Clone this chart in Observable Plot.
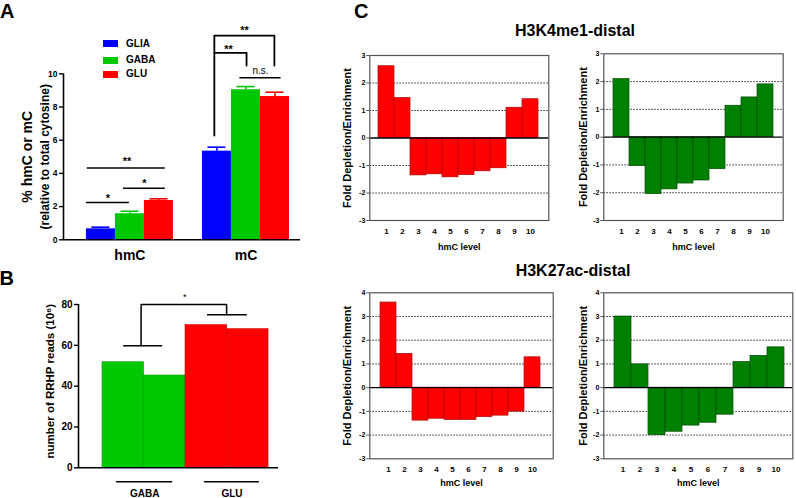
<!DOCTYPE html>
<html><head><meta charset="utf-8">
<script src="https://cdn.jsdelivr.net/npm/d3@7"></script>
<script src="https://cdn.jsdelivr.net/npm/@observablehq/plot@0.6"></script>
<style>
body{margin:0;background:#fff}
#fig{position:relative;width:796px;height:498px;overflow:hidden;font-family:"Liberation Sans",Arial,sans-serif;color:#000;background:#fff}
#fig svg{position:absolute;overflow:visible;background:transparent}
.lbl{position:absolute;line-height:1;white-space:nowrap}
.sw{position:absolute}
</style></head><body><div id="fig"></div>
<script>
// ---------- Panel A data ----------
const aGroups = ["hmC", "mC"];
const aCells = ["GLIA", "GABA", "GLU"];
const aColors = ["#0000ff", "#00c800", "#ff0000"];
const aHmC = [0.66, 1.57, 2.37];
const aHmCErr = [0.10, 0.15, 0.10];
const aMC = [5.34, 9.04, 8.63];
const aMCErr = [0.24, 0.19, 0.26];
const aYTicks = [0, 2, 4, 6, 8, 10];
// significance lines (x in bar-slot units, y in %)
const aSigLines = [
  {x1: 0.00, x2: 1.48, y: 2.25},
  {x1: 1.28, x2: 2.72, y: 3.10},
  {x1: 0.03, x2: 2.72, y: 4.33},
  {x1: 5.29, x2: 6.71, y: 9.76}
];
const aBrackets = [
  {id: "outer", x: 4.41, y: 6.28}, {id: "outer", x: 4.41, y: 12.3}, {id: "outer", x: 6.48, y: 12.3}, {id: "outer", x: 6.48, y: 10.5},
  {id: "inner", x: 4.41, y: 11.26}, {id: "inner", x: 5.52, y: 11.26}, {id: "inner", x: 5.52, y: 10.5}
];
const aMarks = [
  {x: 0.74, y: 2.67, t: "*"}, {x: 2.00, y: 3.57, t: "*"}, {x: 1.40, y: 4.88, t: "**"},
  {x: 4.90, y: 11.64, t: "**"}, {x: 5.45, y: 12.77, t: "**"}
];
const aNS = [{x: 6.0, y: 10.16, t: "n.s."}];

// ---------- Panel B data ----------
const bSamples = ["GABA", "GABA", "GLU", "GLU"];
const bValues = [51.7, 45.2, 69.9, 67.9];
const bGroups = ["GABA", "GLU"];
const bColors = ["#00c800", "#ff0000"];
const bGroupSpans = [[0.34, 1.69], [2.46, 3.78]];
const bYTicks = [0, 20, 40, 60, 80];
const bSigLines = [{x1: 0.51, x2: 1.45, y: 59.8}, {x1: 2.53, x2: 3.49, y: 75}];
const bBracket = [{x: 0.93, y: 59.8}, {x: 0.93, y: 80}, {x: 2.99, y: 80}, {x: 2.99, y: 75}];
const bStar = [{x: 1.98, y: 84.5, t: "*"}];

// ---------- Panel C data ----------
const cLevels = ["1","2","3","4","5","6","7","8","9","10"];
const k4me1Glu  = [2.61, 1.45, -1.36, -1.32, -1.43, -1.35, -1.21, -1.10, 1.10, 1.41];
const k4me1Gaba = [2.09, -1.04, -2.05, -1.88, -1.67, -1.56, -1.15, 1.13, 1.43, 1.90];
const k27acGlu  = [3.59, 1.42, -1.39, -1.31, -1.36, -1.36, -1.24, -1.18, -1.01, 1.28];
const k27acGaba = [3.00, 0.98, -2.00, -1.86, -1.60, -1.48, -1.14, 1.08, 1.34, 1.70];
const cTicksTop = [-3, -2, -1, 0, 1, 2, 3];
const cTicksBottom = [-3, -2, -1, 0, 1, 2, 3, 4];

const FONT = '"Liberation Sans", Arial, sans-serif';
const fmt = d => String(d);
const fig = document.getElementById("fig");
function put(svg, left, top) {
  svg.style.left = left + "px"; svg.style.top = top + "px";
  svg.style.background = "transparent";
  fig.appendChild(svg);
}
function label(txt, x, baseline, size, anchor = "start", weight = "bold") {
  const d = document.createElement("div");
  d.className = "lbl"; d.textContent = txt;
  d.style.fontSize = size + "px"; d.style.fontWeight = weight;
  d.style.top = (baseline - 0.8465 * size) + "px";
  d.style.left = x + "px";
  if (anchor === "middle") d.style.transform = "translateX(-50%)";
  fig.appendChild(d);
}

// ---------- Panel A ----------
const aRows = [];
aGroups.forEach((g, gi) => aCells.forEach((c, ci) => {
  const mean = (gi === 0 ? aHmC : aMC)[ci];
  const err = (gi === 0 ? aHmCErr : aMCErr)[ci];
  aRows.push({group: g, cell: c, slot: gi * (aCells.length + 1) + ci, mean, err});
}));
const aGroupCenters = aGroups.map((g, gi) => gi * (aCells.length + 1) + aCells.length / 2);
const aXDomain = [-0.79, 7.38];
const plotA = Plot.plot({
  width: 310, height: 270,
  marginLeft: 63, marginRight: 10, marginTop: 73.3, marginBottom: 30.7,
  x: {type: "linear", domain: aXDomain, axis: null},
  y: {domain: [0, 10], axis: null},
  color: {domain: aCells, range: aColors},
  style: {fontFamily: FONT, fontSize: "9px", fontWeight: "bold", background: "transparent", overflow: "visible"},
  marks: [
    Plot.rect(aRows, {x1: "slot", x2: d => d.slot + 1, y1: 0, y2: "mean", fill: "cell"}),
    Plot.ruleX(aRows, {x: d => d.slot + 0.5, y1: "mean", y2: d => d.mean + d.err, stroke: "cell", strokeWidth: 1.6}),
    Plot.ruleY(aRows, {y: d => d.mean + d.err, x1: d => d.slot + 0.19, x2: d => d.slot + 0.81, stroke: "cell", strokeWidth: 1.6}),
    Plot.ruleY([0], {stroke: "#000", strokeWidth: 1.6}),
    Plot.ruleX([aXDomain[0]], {y1: 0, y2: 10, stroke: "#000", strokeWidth: 1.6}),
    Plot.axisY({ticks: aYTicks, tickFormat: fmt, tickSize: 4, tickPadding: 2, fontSize: 8.5, fontWeight: "bold", label: null, strokeWidth: 1.4}),
    Plot.text(aGroups, {x: (d, i) => aGroupCenters[i], y: 0, dy: 16, text: d => d, fontSize: 14, fontWeight: "bold"}),
    Plot.text(["% hmC or mC"], {frameAnchor: "left", textAnchor: "middle", dx: -36, rotate: -90, text: d => d, fontSize: 14, fontWeight: "bold"}),
    Plot.text(["(relative to total cytosine)"], {frameAnchor: "left", textAnchor: "middle", dx: -18, rotate: -90, text: d => d, fontSize: 12, fontWeight: "bold"}),
    Plot.ruleY(aSigLines, {x1: "x1", x2: "x2", y: "y", stroke: "#000", strokeWidth: 1.5}),
    Plot.line(aBrackets, {x: "x", y: "y", z: "id", stroke: "#000", strokeWidth: 1.8}),
    Plot.text(aMarks, {x: "x", y: "y", text: "t", dy: 3, fontSize: 11, fontWeight: "bold"}),
    Plot.text(aNS, {x: "x", y: "y", text: "t", fontSize: 10, fontWeight: "normal"})
  ]
});
put(plotA, 0, 0);

// ---------- Panel B ----------
const bRows = bSamples.map((s, i) => ({sample: s, slot: i, value: bValues[i]}));
const bXDomain = [-0.578, 4.24];
const plotB = Plot.plot({
  width: 290, height: 228,
  marginLeft: 78, marginRight: 12, marginTop: 34, marginBottom: 30.7,
  x: {type: "linear", domain: bXDomain, axis: null},
  y: {domain: [0, 80], axis: null},
  color: {domain: bGroups, range: bColors},
  style: {fontFamily: FONT, fontSize: "10px", fontWeight: "bold", background: "transparent", overflow: "visible"},
  marks: [
    Plot.rect(bRows, {x1: "slot", x2: d => d.slot + 1, y1: 0, y2: "value", fill: "sample", stroke: d => d.sample === "GABA" ? "#00a000" : "#d00000", strokeWidth: 0.6}),
    Plot.ruleY([0], {stroke: "#000", strokeWidth: 1.6}),
    Plot.ruleX([bXDomain[0]], {y1: 0, y2: 80, stroke: "#000", strokeWidth: 1.6}),
    Plot.axisY({ticks: bYTicks, tickFormat: fmt, tickSize: 4, tickPadding: 2, fontSize: 10, fontWeight: "bold", label: null, strokeWidth: 1.4}),
    Plot.text(["number of RRHP reads (10\u2076)"], {frameAnchor: "left", textAnchor: "middle", dx: -28, dy: -5, rotate: -90, text: d => d, fontSize: 11.5, fontWeight: "bold"}),
    Plot.ruleY(bGroups, {x1: (d, i) => bGroupSpans[i][0], x2: (d, i) => bGroupSpans[i][1], y: 0, dy: 14, stroke: "#000", strokeWidth: 1.5}),
    Plot.text(bGroups, {x: (d, i) => (bGroupSpans[i][0] + bGroupSpans[i][1]) / 2, y: 0, dy: 25.5, text: d => d, fontSize: 10, fontWeight: "bold"}),
    Plot.ruleY(bSigLines, {x1: "x1", x2: "x2", y: "y", stroke: "#000", strokeWidth: 1.5}),
    Plot.line(bBracket, {x: "x", y: "y", stroke: "#000", strokeWidth: 1.5}),
    Plot.text(bStar, {x: "x", y: "y", text: "t", dy: 2, fontSize: 9, fontWeight: "normal"})
  ]
});
put(plotB, 0, 270);

// ---------- Panel C ----------
function cPanel(vals, fill, stroke, ticks, box) {
  const rows = cLevels.map((lv, i) => ({level: lv, v: vals[i]}));
  const dom = [ticks[0], ticks[ticks.length - 1]];
  return Plot.plot({
    width: box.w, height: box.h,
    marginLeft: box.ml, marginRight: box.mr, marginTop: box.mt, marginBottom: box.mb,
    x: {type: "band", domain: cLevels, padding: 0, insetLeft: box.il, insetRight: box.ir, axis: null},
    y: {domain: dom, axis: null},
    style: {fontFamily: FONT, fontSize: "8px", fontWeight: "bold", background: "transparent", overflow: "visible"},
    marks: [
      Plot.gridY({ticks: ticks.filter(t => t !== 0 && t !== dom[0] && t !== dom[1]), stroke: "#222", strokeOpacity: 1, strokeWidth: 0.9, strokeDasharray: "1.6,1.4"}),
      Plot.barY(rows, {x: "level", y: "v", fill, stroke, strokeWidth: 0.7}),
      Plot.ruleY([0], {stroke: "#000", strokeWidth: 1.3}),
      Plot.frame({stroke: "#555", strokeWidth: 1.2}),
      Plot.axisY({ticks, tickFormat: fmt, tickSize: 3, tickPadding: 1.5, fontSize: 7, fontWeight: "bold", label: null, stroke: "#555"}),
      Plot.text(cLevels, {x: d => d, text: d => d, frameAnchor: "bottom", dy: box.tx, fontSize: 8, fontWeight: "bold"}),
      Plot.text(["hmC level"], {frameAnchor: "bottom", dy: box.lx, text: d => d, fontSize: 9, fontWeight: "bold"}),
      Plot.text(["Fold Depletion/Enrichment"], {frameAnchor: "left", textAnchor: "middle", dx: box.yl, rotate: -90, text: d => d, fontSize: 11, fontWeight: "bold"})
    ]
  });
}
put(cPanel(k4me1Glu, "#ff0000", "#b00000", cTicksTop,
  {w: 225, h: 220, ml: 39.3, mr: 6.7, mt: 15, mb: 40, il: 6.7, ir: 9.3, tx: 13, lx: 29, yl: -22.3}), 330, 40);
put(cPanel(k4me1Gaba, "#008000", "#004d00", cTicksTop,
  {w: 230, h: 220, ml: 37.3, mr: 13.3, mt: 13.3, mb: 40, il: 8.4, ir: 8.7, tx: 13, lx: 29, yl: -20.3}), 566, 40);
put(cPanel(k27acGlu, "#ff0000", "#b00000", cTicksBottom,
  {w: 230, h: 218, ml: 39.3, mr: 7.3, mt: 12.3, mb: 39.7, il: 7.4, ir: 8.4, tx: 13.4, lx: 26.7, yl: -22.6}), 330, 280);
put(cPanel(k27acGaba, "#008000", "#004d00", cTicksBottom,
  {w: 230, h: 218, ml: 37.3, mr: 3.7, mt: 12.3, mb: 39.7, il: 9, ir: 7.6, tx: 13.4, lx: 26.7, yl: -20}), 566, 280);

// ---------- Legend for A ----------
aCells.forEach((c, i) => {
  const cy = [43.7, 60, 74.3][i];
  const s = document.createElement("div");
  s.className = "sw";
  s.style.cssText = `left:103px;top:${cy - 3.5}px;width:15px;height:7px;background:${aColors[i]}`;
  fig.appendChild(s);
  label(c, 126, cy + 3.6, 10, "start", "bold");
});

// ---------- Titles / panel letters ----------
label("A", 0, 18.3, 20);
label("B", -0.5, 285, 20);
label("C", 354, 18.3, 20);
label("H3K4me1-distal", 575, 37, 16, "middle");
label("H3K27ac-distal", 573, 277, 16, "middle");
</script>
</body></html>
